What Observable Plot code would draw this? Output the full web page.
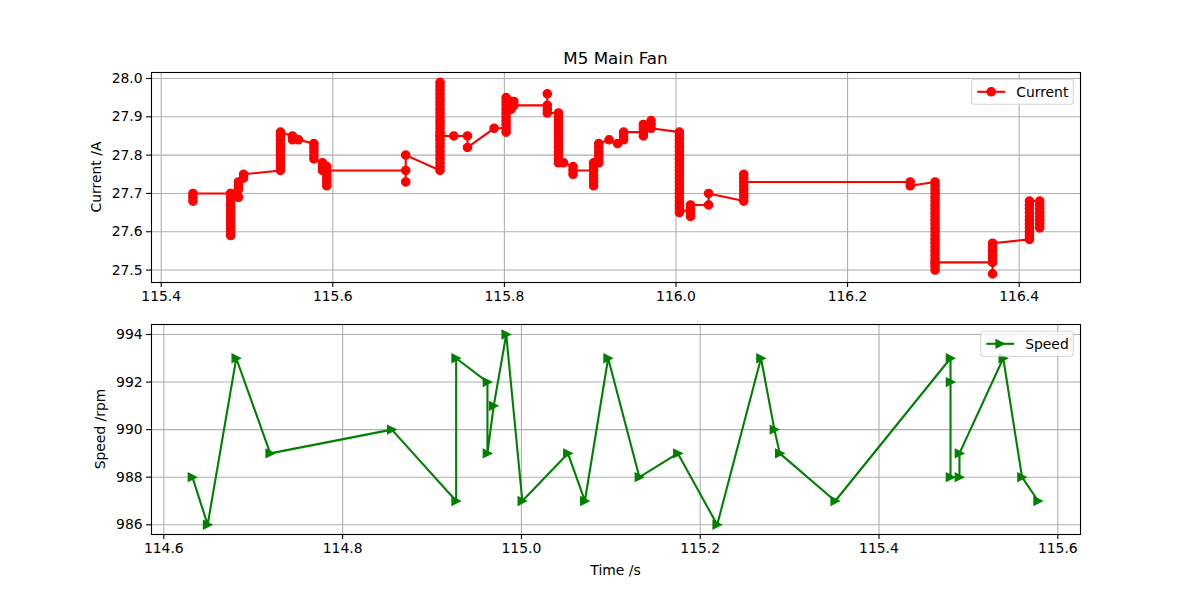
<!DOCTYPE html>
<html><head><meta charset="utf-8">
<script src="https://cdn.jsdelivr.net/npm/d3@7"></script>
<script src="https://cdn.jsdelivr.net/npm/@observablehq/plot@0.6"></script>
<style>
html,body{margin:0;padding:0;background:#fff;}
#wrap{position:relative;width:1200px;height:600px;overflow:hidden;background:#fff;}
#wrap svg{position:absolute;left:0;}
</style></head><body><div id="wrap"></div>
<script>
const chartTitle = "M5 Main Fan";
const xLabel = "Time /s";
const currentLabel = "Current /A";
const speedLabel = "Speed /rpm";
const currentName = "Current";
const speedName = "Speed";

// Current samples: one time stamp per group, several readings per time stamp
const currentTimes = [115.437, 115.481, 115.490, 115.496, 115.539, 115.553, 115.560, 115.578, 115.588, 115.593,
  115.685, 115.725, 115.741, 115.757, 115.788, 115.802, 115.808, 115.811, 115.850, 115.863,
  115.869, 115.880, 115.904, 115.910, 115.922, 115.932, 115.939, 115.962, 115.971, 116.004,
  116.017, 116.038, 116.079, 116.273, 116.302, 116.369, 116.412, 116.424];
const currentValues = [
  [27.68, 27.69, 27.70],
  [27.70, 27.69, 27.68, 27.67, 27.66, 27.65, 27.64, 27.63, 27.62, 27.61, 27.60, 27.59, 27.70],
  [27.69, 27.71, 27.72, 27.73],
  [27.74, 27.75],
  [27.76, 27.77, 27.78, 27.79, 27.80, 27.81, 27.82, 27.83, 27.84, 27.85, 27.86],
  [27.85, 27.84],
  [27.84],
  [27.83, 27.82, 27.81, 27.80, 27.79],
  [27.78, 27.77, 27.76],
  [27.77, 27.75, 27.74, 27.73, 27.72, 27.76],
  [27.76, 27.73, 27.80],
  [27.76, 27.77, 27.78, 27.79, 27.80, 27.81, 27.82, 27.83, 27.84, 27.85, 27.86, 27.87, 27.88, 27.89, 27.90, 27.91, 27.92, 27.93, 27.94, 27.95, 27.96, 27.97, 27.98, 27.99, 27.85],
  [27.85],
  [27.85, 27.82],
  [27.87],
  [27.87, 27.86, 27.88, 27.89, 27.90, 27.91, 27.92, 27.93, 27.94, 27.95],
  [27.94, 27.92, 27.93],
  [27.94, 27.93],
  [27.93, 27.96, 27.92, 27.91],
  [27.91, 27.90, 27.89, 27.88, 27.87, 27.86, 27.85, 27.84, 27.83, 27.82, 27.81, 27.80, 27.79, 27.78],
  [27.78],
  [27.77, 27.75, 27.76],
  [27.76, 27.75, 27.74, 27.73, 27.72, 27.77, 27.78],
  [27.78, 27.79, 27.80, 27.81, 27.82, 27.83],
  [27.84],
  [27.83],
  [27.84, 27.85, 27.86],
  [27.86, 27.85, 27.87, 27.88],
  [27.88, 27.89, 27.87],
  [27.86, 27.85, 27.84, 27.83, 27.82, 27.81, 27.80, 27.79, 27.78, 27.77, 27.76, 27.75, 27.74, 27.73, 27.72, 27.71, 27.70, 27.69, 27.68, 27.67, 27.66, 27.65],
  [27.66, 27.64, 27.65, 27.67],
  [27.67, 27.70],
  [27.68, 27.69, 27.70, 27.71, 27.72, 27.74, 27.75, 27.73],
  [27.73, 27.72],
  [27.73, 27.72, 27.71, 27.70, 27.69, 27.68, 27.67, 27.66, 27.65, 27.64, 27.63, 27.62, 27.61, 27.60, 27.59, 27.58, 27.57, 27.56, 27.55, 27.54, 27.53, 27.52, 27.51, 27.50, 27.52],
  [27.52, 27.49, 27.53, 27.54, 27.55, 27.56, 27.57],
  [27.58, 27.59, 27.60, 27.61, 27.62, 27.63, 27.64, 27.65, 27.66, 27.67, 27.68],
  [27.68, 27.67, 27.66, 27.65, 27.64, 27.63, 27.62, 27.61]
];

// Speed samples
const speedTimes = [114.632, 114.649, 114.681, 114.719, 114.855, 114.927, 114.927, 114.962, 114.962, 114.969,
  114.983, 115.001, 115.052, 115.071, 115.097, 115.132, 115.175, 115.219, 115.268, 115.283,
  115.289, 115.351, 115.480, 115.480, 115.480, 115.490, 115.490, 115.539, 115.560, 115.578];
const speedValues = [988, 986, 993, 989, 990, 987, 993, 992, 989, 991,
  994, 987, 989, 987, 993, 988, 989, 986, 993, 990,
  989, 987, 993, 992, 988, 988, 989, 993, 988, 987];

// Tick values
const currentXTicks = [115.4, 115.6, 115.8, 116.0, 116.2, 116.4];
const currentYTicks = [27.5, 27.6, 27.7, 27.8, 27.9, 28.0];
const speedXTicks = [114.6, 114.8, 115.0, 115.2, 115.4, 115.6];
const speedYTicks = [986, 988, 990, 992, 994];

const currentRows = currentTimes.flatMap((t, i) => currentValues[i].map(v => ({t, v})));
const speedRows = speedTimes.map((t, i) => ({t, v: speedValues[i]}));

const FONT = "DejaVu Sans";
const triRight = {draw(ctx, size) { const s = Math.sqrt(size / Math.PI); ctx.moveTo(s, 0); ctx.lineTo(-s, -s); ctx.lineTo(-s, s); ctx.closePath(); }};

function panel(o) {
  const svg = Plot.plot({
    width: 1200, height: 310,
    marginLeft: 151, marginRight: 120, marginTop: o.mt, marginBottom: o.mb,
    style: {fontFamily: FONT, fontSize: "13.9px", background: "transparent", overflow: "visible", color: "black"},
    x: {domain: o.xDomain},
    y: {domain: o.yDomain},
    marks: [
      Plot.gridX(o.xTicks, {stroke: "#b0b0b0", strokeOpacity: 1, strokeWidth: 1.1}),
      Plot.gridY(o.yTicks, {stroke: "#b0b0b0", strokeOpacity: 1, strokeWidth: 1.1}),
      Plot.line(o.rows, {x: "t", y: "v", stroke: o.color, strokeWidth: 2.1}),
      Plot.dot(o.rows, {x: "t", y: "v", fill: o.color, stroke: o.color, strokeWidth: 1.2, r: 4.2, symbol: o.symbol}),
      Plot.frame({stroke: "black", strokeWidth: 1.1}),
      Plot.axisX(o.xTicks, {tickFormat: d3.format(o.xFmt), tickSize: 4.9, tickPadding: 4, strokeWidth: 1.1, label: null, fontSize: 13.9}),
      Plot.axisY(o.yTicks, {tickFormat: d3.format(o.yFmt), tickSize: 4.9, tickPadding: 4, strokeWidth: 1.1, label: null, fontSize: 13.9})
    ]
  });
  svg.style.top = o.offset + "px";
  const s = d3.select(svg);
  // y label
  s.append("text").attr("transform", `translate(${o.ylx},${o.mt + (310 - o.mt - o.mb) / 2}) rotate(-90)`)
    .attr("text-anchor", "middle").attr("dy", "0.35em").attr("font-family", FONT).attr("font-size", "13.9px")
    .attr("fill", "black").text(o.yLabel);
  // legend
  const L = o.legend;
  const g = s.append("g");
  g.append("rect").attr("x", L.x).attr("y", L.y).attr("width", L.w).attr("height", 25).attr("rx", 2.8)
    .attr("fill", "white").attr("fill-opacity", 0.8).attr("stroke", "#cccccc").attr("stroke-opacity", 0.8).attr("stroke-width", 1.1);
  const cy = L.y + 12.5;
  const hx = L.x + 5.6;
  g.append("line").attr("x1", hx).attr("x2", hx + 27.8).attr("y1", cy).attr("y2", cy).attr("stroke", o.color).attr("stroke-width", 2.1);
  const mx = hx + 13.9;
  if (o.symbol === "circle") {
    g.append("circle").attr("cx", mx).attr("cy", cy).attr("r", 4.2).attr("fill", o.color).attr("stroke", o.color).attr("stroke-width", 1.2);
  } else {
    g.append("path").attr("d", `M${mx + 4.2},${cy}L${mx - 4.2},${cy - 4.2}L${mx - 4.2},${cy + 4.2}Z`).attr("fill", o.color).attr("stroke", o.color).attr("stroke-width", 1.2);
  }
  g.append("text").attr("x", hx + 27.8 + 11.1).attr("y", cy).attr("dy", "0.36em").attr("text-anchor", "start")
    .attr("font-family", FONT).attr("font-size", "13.9px").attr("fill", "black").text(o.name);
  return svg;
}

const wrap = document.getElementById("wrap");
const topSvg = panel({rows: currentRows, color: "#ff0000", symbol: "circle",
  xDomain: [115.3887, 116.4715], yDomain: [27.4675, 28.0157],
  xTicks: currentXTicks, yTicks: currentYTicks, xFmt: ".1f", yFmt: ".1f",
  mt: 72, mb: 28, offset: 0, ylx: 96, yLabel: currentLabel, name: currentName,
  legend: {x: 971.7, y: 79.3, w: 101.6}});
d3.select(topSvg).append("text").attr("x", 615.5).attr("y", 63.5).attr("text-anchor", "middle")
  .attr("font-family", FONT).attr("font-size", "16.7px").attr("fill", "black").text(chartTitle);
const bottomSvg = panel({rows: speedRows, color: "#008000", symbol: triRight,
  xDomain: [114.5862, 115.6254], yDomain: [985.59, 994.42],
  xTicks: speedXTicks, yTicks: speedYTicks, xFmt: ".1f", yFmt: "d",
  mt: 34, mb: 66, offset: 290, ylx: 100, yLabel: speedLabel, name: speedName,
  legend: {x: 980.7, y: 41.3, w: 92.6}});
d3.select(bottomSvg).append("text").attr("x", 615.5).attr("y", 285).attr("text-anchor", "middle")
  .attr("font-family", FONT).attr("font-size", "13.9px").attr("fill", "black").text(xLabel);
wrap.appendChild(topSvg);
wrap.appendChild(bottomSvg);
</script></body></html>
